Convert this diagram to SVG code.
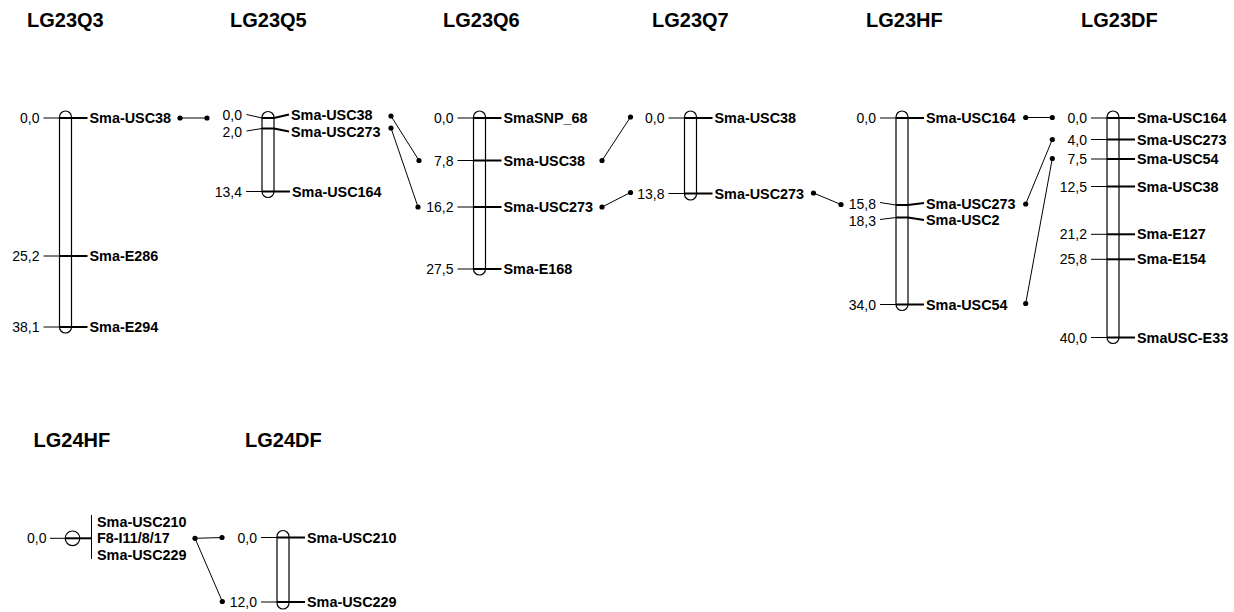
<svg xmlns="http://www.w3.org/2000/svg" width="1234" height="612" viewBox="0 0 1234 612">
<style>
.title{font-family:"Liberation Sans",Arial,sans-serif;font-weight:bold;font-size:20px;fill:#000}
.num{font-family:"Liberation Sans",Arial,sans-serif;font-size:14px;fill:#000;text-anchor:end}
.lab{font-family:"Liberation Sans",Arial,sans-serif;font-weight:bold;font-size:14.4px;fill:#000}
.bar{fill:#fff;stroke:#000;stroke-width:1.2}
.thin{stroke:#000;stroke-width:1;fill:none}
.bold{stroke:#000;stroke-width:2;fill:none}
.con{stroke:#000;stroke-width:1;fill:none}
.dot{fill:#000}
</style>
<rect width="1234" height="612" fill="#fff"/>

<g id="LG23Q3">
<text class="title" x="27" y="27">LG23Q3</text>
<rect class="bar" x="59.5" y="111" width="12" height="222" rx="6" ry="6"/>
<line class="thin" x1="43.5" y1="118" x2="59.5" y2="118"/><line class="bold" x1="59.5" y1="118" x2="87.5" y2="118"/>
<text class="num" x="39.5" y="123">0,0</text><text class="lab" x="89.5" y="123">Sma-USC38</text>
<line class="thin" x1="43.5" y1="256" x2="59.5" y2="256"/><line class="bold" x1="59.5" y1="256" x2="87.5" y2="256"/>
<text class="num" x="39.5" y="261">25,2</text><text class="lab" x="89.5" y="261">Sma-E286</text>
<line class="thin" x1="43.5" y1="327" x2="59.5" y2="327"/><line class="bold" x1="59.5" y1="327" x2="87.5" y2="327"/>
<text class="num" x="39.5" y="332">38,1</text><text class="lab" x="89.5" y="332">Sma-E294</text>
</g>

<g id="LG23Q5">
<text class="title" x="230" y="27">LG23Q5</text>
<rect class="bar" x="262" y="111.5" width="12" height="86" rx="6" ry="6"/>
<polyline class="thin" points="246.5,114.5 262,118"/><line class="bold" x1="262" y1="118" x2="274" y2="118"/><polyline class="bold" points="274,118 289,114.5"/>
<text class="num" x="242" y="120">0,0</text><text class="lab" x="291" y="120">Sma-USC38</text>
<polyline class="thin" points="246.5,131 262,128.5"/><line class="bold" x1="262" y1="128.5" x2="274" y2="128.5"/><polyline class="bold" points="274,128.5 289,131.5"/>
<text class="num" x="242" y="137">2,0</text><text class="lab" x="291" y="137">Sma-USC273</text>
<line class="thin" x1="246" y1="191.5" x2="262" y2="191.5"/><line class="bold" x1="262" y1="191.5" x2="290" y2="191.5"/>
<text class="num" x="242" y="196.5">13,4</text><text class="lab" x="292" y="196.5">Sma-USC164</text>
</g>

<g id="LG23Q6">
<text class="title" x="443" y="27">LG23Q6</text>
<rect class="bar" x="473.5" y="111" width="12" height="164" rx="6" ry="6"/>
<line class="thin" x1="457.5" y1="118" x2="473.5" y2="118"/><line class="bold" x1="473.5" y1="118" x2="501.5" y2="118"/>
<text class="num" x="453.5" y="123">0,0</text><text class="lab" x="503.5" y="123">SmaSNP_68</text>
<line class="thin" x1="457.5" y1="160.5" x2="473.5" y2="160.5"/><line class="bold" x1="473.5" y1="160.5" x2="501.5" y2="160.5"/>
<text class="num" x="453.5" y="165.5">7,8</text><text class="lab" x="503.5" y="165.5">Sma-USC38</text>
<line class="thin" x1="457.5" y1="207" x2="473.5" y2="207"/><line class="bold" x1="473.5" y1="207" x2="501.5" y2="207"/>
<text class="num" x="453.5" y="212">16,2</text><text class="lab" x="503.5" y="212">Sma-USC273</text>
<line class="thin" x1="457.5" y1="269" x2="473.5" y2="269"/><line class="bold" x1="473.5" y1="269" x2="501.5" y2="269"/>
<text class="num" x="453.5" y="274">27,5</text><text class="lab" x="503.5" y="274">Sma-E168</text>
</g>

<g id="LG23Q7">
<text class="title" x="652" y="27">LG23Q7</text>
<rect class="bar" x="684.5" y="111" width="12" height="89" rx="6" ry="6"/>
<line class="thin" x1="668.5" y1="118" x2="684.5" y2="118"/><line class="bold" x1="684.5" y1="118" x2="712.5" y2="118"/>
<text class="num" x="664.5" y="123">0,0</text><text class="lab" x="714.5" y="123">Sma-USC38</text>
<line class="thin" x1="668.5" y1="193.5" x2="684.5" y2="193.5"/><line class="bold" x1="684.5" y1="193.5" x2="712.5" y2="193.5"/>
<text class="num" x="664.5" y="198.5">13,8</text><text class="lab" x="714.5" y="198.5">Sma-USC273</text>
</g>

<g id="LG23HF">
<text class="title" x="866" y="27">LG23HF</text>
<rect class="bar" x="896" y="111" width="12" height="199.5" rx="6" ry="6"/>
<line class="thin" x1="880" y1="118" x2="896" y2="118"/><line class="bold" x1="896" y1="118" x2="924" y2="118"/>
<text class="num" x="876" y="123">0,0</text><text class="lab" x="926" y="123">Sma-USC164</text>
<polyline class="thin" points="880,202.5 896,205"/><line class="bold" x1="896" y1="205" x2="908" y2="205"/><polyline class="bold" points="908,205 924,203"/>
<text class="num" x="876" y="208.5">15,8</text><text class="lab" x="926" y="208.5">Sma-USC273</text>
<polyline class="thin" points="880,219.5 896,217.5"/><line class="bold" x1="896" y1="217.5" x2="908" y2="217.5"/><polyline class="bold" points="908,217.5 924,220"/>
<text class="num" x="876" y="225.5">18,3</text><text class="lab" x="926" y="225">Sma-USC2</text>
<line class="thin" x1="880" y1="304.5" x2="896" y2="304.5"/><line class="bold" x1="896" y1="304.5" x2="924" y2="304.5"/>
<text class="num" x="876" y="309.5">34,0</text><text class="lab" x="926" y="309.5">Sma-USC54</text>
</g>

<g id="LG23DF">
<text class="title" x="1081" y="27">LG23DF</text>
<rect class="bar" x="1107" y="111" width="12" height="232.5" rx="6" ry="6"/>
<line class="thin" x1="1091" y1="118" x2="1107" y2="118"/><line class="bold" x1="1107" y1="118" x2="1135" y2="118"/>
<text class="num" x="1087" y="123">0,0</text><text class="lab" x="1137" y="123">Sma-USC164</text>
<line class="thin" x1="1091" y1="139.5" x2="1107" y2="139.5"/><line class="bold" x1="1107" y1="139.5" x2="1135" y2="139.5"/>
<text class="num" x="1087" y="144.5">4,0</text><text class="lab" x="1137" y="144.5">Sma-USC273</text>
<line class="thin" x1="1091" y1="159" x2="1107" y2="159"/><line class="bold" x1="1107" y1="159" x2="1135" y2="159"/>
<text class="num" x="1087" y="164">7,5</text><text class="lab" x="1137" y="164">Sma-USC54</text>
<line class="thin" x1="1091" y1="186.5" x2="1107" y2="186.5"/><line class="bold" x1="1107" y1="186.5" x2="1135" y2="186.5"/>
<text class="num" x="1087" y="191.5">12,5</text><text class="lab" x="1137" y="191.5">Sma-USC38</text>
<line class="thin" x1="1091" y1="234.3" x2="1107" y2="234.3"/><line class="bold" x1="1107" y1="234.3" x2="1135" y2="234.3"/>
<text class="num" x="1087" y="239.3">21,2</text><text class="lab" x="1137" y="239.3">Sma-E127</text>
<line class="thin" x1="1091" y1="259.3" x2="1107" y2="259.3"/><line class="bold" x1="1107" y1="259.3" x2="1135" y2="259.3"/>
<text class="num" x="1087" y="264.3">25,8</text><text class="lab" x="1137" y="264.3">Sma-E154</text>
<line class="thin" x1="1091" y1="337.5" x2="1107" y2="337.5"/><line class="bold" x1="1107" y1="337.5" x2="1135" y2="337.5"/>
<text class="num" x="1087" y="342.5">40,0</text><text class="lab" x="1137" y="342.5">SmaUSC-E33</text>
</g>

<g id="LG24HF">
<text class="title" x="33.5" y="446.5">LG24HF</text>
<line class="thin" x1="50" y1="538.3" x2="65" y2="538.3"/>
<circle class="bar" cx="72.5" cy="538.3" r="7.3"/>
<line class="bold" x1="65" y1="538.3" x2="91.5" y2="538.3"/>
<line class="thin" x1="91.5" y1="515" x2="91.5" y2="559"/>
<text class="num" x="46.5" y="543.3">0,0</text>
<text class="lab" x="97" y="526.7">Sma-USC210</text>
<text class="lab" x="97" y="543.3">F8-I11/8/17</text>
<text class="lab" x="97" y="560">Sma-USC229</text>
</g>

<g id="LG24DF">
<text class="title" x="245" y="446.5">LG24DF</text>
<rect class="bar" x="277" y="530.5" width="12" height="78.5" rx="6" ry="6"/>
<line class="thin" x1="261" y1="537.5" x2="277" y2="537.5"/><line class="bold" x1="277" y1="537.5" x2="305" y2="537.5"/>
<text class="num" x="257" y="542.5">0,0</text><text class="lab" x="307" y="542.5">Sma-USC210</text>
<line class="thin" x1="261" y1="602" x2="277" y2="602"/><line class="bold" x1="277" y1="602" x2="305" y2="602"/>
<text class="num" x="257" y="607">12,0</text><text class="lab" x="307" y="607">Sma-USC229</text>
</g>

<g id="connectors">
<line class="con" x1="180" y1="118" x2="207" y2="118"/>
<line class="con" x1="391" y1="116" x2="419" y2="160.5"/>
<line class="con" x1="391" y1="128" x2="418" y2="207"/>
<line class="con" x1="602" y1="160.5" x2="630.5" y2="117"/>
<line class="con" x1="602" y1="207" x2="630.5" y2="192.5"/>
<line class="con" x1="813.5" y1="193" x2="841" y2="204.5"/>
<line class="con" x1="1025.7" y1="117.5" x2="1052.3" y2="117.5"/>
<line class="con" x1="1025.7" y1="204" x2="1052.3" y2="139.5"/>
<line class="con" x1="1025.7" y1="303.5" x2="1052.3" y2="158.5"/>
<line class="con" x1="195" y1="538.3" x2="222" y2="537.5"/>
<line class="con" x1="195" y1="538.3" x2="222.3" y2="601.5"/>
<g class="dot">
<circle cx="180" cy="118" r="2.6"/><circle cx="207" cy="118" r="2.6"/>
<circle cx="391" cy="116" r="2.6"/><circle cx="419" cy="160.5" r="2.6"/>
<circle cx="391" cy="128" r="2.6"/><circle cx="418" cy="207" r="2.6"/>
<circle cx="602" cy="160.5" r="2.6"/><circle cx="630.5" cy="117" r="2.6"/>
<circle cx="602" cy="207" r="2.6"/><circle cx="630.5" cy="192.5" r="2.6"/>
<circle cx="813.5" cy="193" r="2.6"/><circle cx="841" cy="204.5" r="2.6"/>
<circle cx="1025.7" cy="117.5" r="2.6"/><circle cx="1052.3" cy="117.5" r="2.6"/>
<circle cx="1025.7" cy="204" r="2.6"/><circle cx="1052.3" cy="139.5" r="2.6"/>
<circle cx="1025.7" cy="303.5" r="2.6"/><circle cx="1052.3" cy="158.5" r="2.6"/>
<circle cx="195" cy="538.3" r="2.6"/><circle cx="222" cy="537.5" r="2.6"/>
<circle cx="222.3" cy="601.5" r="2.6"/>
</g>
</g>
</svg>
